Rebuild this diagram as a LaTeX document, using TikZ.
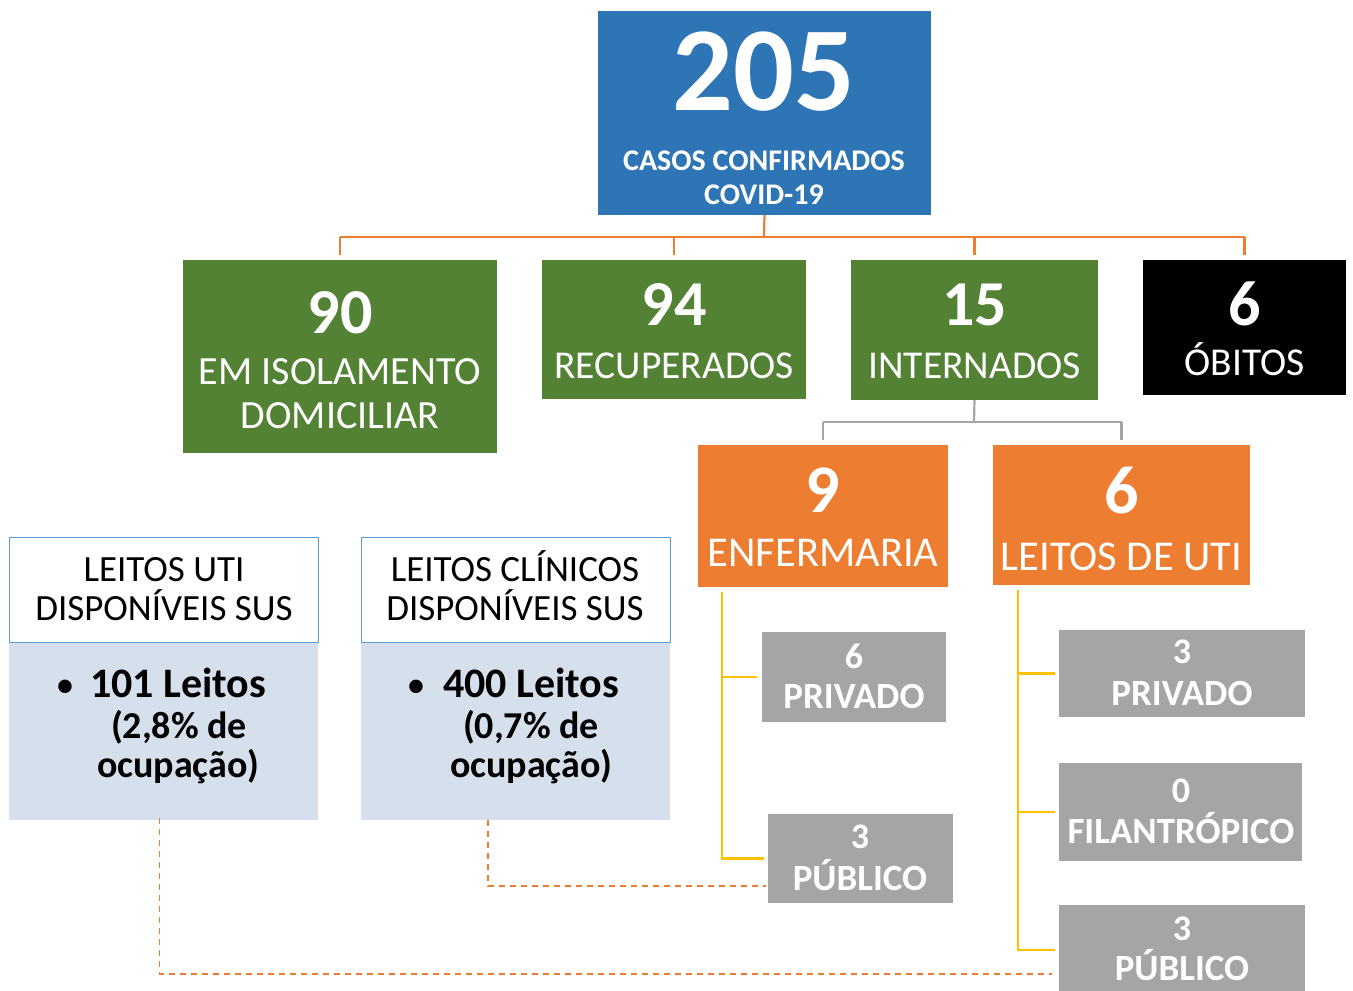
\documentclass[tikz,border=0pt]{standalone}
\usepackage{fontspec}
\setmainfont{Carlito}
\definecolor{blu}{HTML}{2E75B6}
\definecolor{grn}{HTML}{548235}
\definecolor{org}{HTML}{ED7D31}
\definecolor{gry}{HTML}{A5A5A5}
\definecolor{yel}{HTML}{FFC000}
\definecolor{lbody}{HTML}{D6DFEC}
\definecolor{hblue}{HTML}{5B9BD5}
\definecolor{glin}{HTML}{A5A5A5}
\newcommand\fs[1]{\fontsize{#1}{#1}\selectfont}
\begin{document}
\begin{tikzpicture}[x=1pt,y=-1pt,
  bx/.style={rectangle, inner sep=0pt, outer sep=0pt, anchor=north west},
  lbl/.style={inner sep=0pt, anchor=base, align=center},
  oline/.style={draw=org, line width=2.2pt},
  gline/.style={draw=glin, line width=2.2pt},
  yline/.style={draw=yel, line width=2.4pt},
  dline/.style={draw=org, line width=1.4pt, dash pattern=on 6pt off 5pt},
  wtxt/.style={lbl, text=white},
  btxt/.style={lbl, text=black}]
\useasboundingbox (0,0) rectangle (1353,991);
% boxes
\node[bx, fill=blu, minimum width=333pt, minimum height=204pt] (total) at (598,11) {};
\node[bx, fill=grn, minimum width=314pt, minimum height=193pt] (iso) at (183,260) {};
\node[bx, fill=grn, minimum width=264pt, minimum height=139pt] (rec) at (542,260) {};
\node[bx, fill=grn, minimum width=247pt, minimum height=140pt] (int) at (851,260) {};
\node[bx, fill=black, minimum width=203pt, minimum height=135pt] (obi) at (1143,260) {};
\node[bx, fill=org, minimum width=250pt, minimum height=142pt] (enf) at (698,445) {};
\node[bx, fill=org, minimum width=257pt, minimum height=140pt] (uti) at (993,445) {};
\node[bx, fill=gry, minimum width=184pt, minimum height=90pt] (priv1) at (762,632) {};
\node[bx, fill=gry, minimum width=185pt, minimum height=89pt] (pub1) at (768,814) {};
\node[bx, fill=gry, minimum width=246pt, minimum height=87pt] (priv2) at (1059,630) {};
\node[bx, fill=gry, minimum width=243pt, minimum height=98pt] (fil) at (1059,763) {};
\node[bx, fill=gry, minimum width=246pt, minimum height=90pt] (pub2) at (1059,905) {};
\node[bx, fill=lbody, minimum width=309pt, minimum height=178pt] (utib) at (9,642) {};
\node[bx, draw=hblue, fill=white, line width=1pt, minimum width=309pt, minimum height=105pt] (utih) at (9,537) {};
\node[bx, fill=lbody, minimum width=309pt, minimum height=178pt] (clib) at (361,642) {};
\node[bx, draw=hblue, fill=white, line width=1pt, minimum width=309pt, minimum height=105pt] (clih) at (361,537) {};
% connectors
\coordinate (bus) at (764,237);
\draw[oline] (total.south) -- (bus);
\draw[oline] (bus -| iso.north) -- (bus -| obi.north);
\foreach \n in {iso,rec,int,obi} \draw[oline, shorten >=5pt] (bus -| \n.north) -- (\n.north);
\coordinate (gbus) at (974,422);
\draw[gline] (int.south) -- (gbus);
\draw[gline] (gbus -| enf.north) -- (gbus -| uti.north);
\foreach \n in {enf,uti} \draw[gline, shorten >=5pt] (gbus -| \n.north) -- (\n.north);
\coordinate (y1) at (722,592);
\draw[yline] (y1) |- ([xshift=-5pt]priv1.west);
\draw[yline] (y1) |- ([xshift=-4pt]pub1.west);
\coordinate (y2) at (1018,590);
\draw[yline] (y2) |- ([xshift=-4pt]priv2.west);
\draw[yline] (y2) |- ([xshift=-4pt]fil.west);
\draw[yline] (y2) |- ([xshift=-4pt]pub2.west);
\draw[dline] ([xshift=-4pt,yshift=2pt]utib.south) |- ([xshift=-7pt,yshift=-24pt]pub2.west);
\draw[dline] ([xshift=-27.5pt]clib.south) |- ([xshift=-2pt,yshift=-27.5pt]pub1.west);
% texts
\node[wtxt, font=\bfseries\fs{120}] (t205) at (764,110) {205};
\node[wtxt, font=\bfseries\fs{30}] (tcasos) at (764,170) {CASOS CONFIRMADOS};
\node[wtxt, font=\bfseries\fs{30}] (tcovid) at (764,204) {COVID-19};
\node[wtxt, font=\bfseries\fs{64}] (t90) at (340,333) {90};
\node[wtxt, font=\fs{40}] (tiso1) at (340,384) {EM ISOLAMENTO};
\node[wtxt, font=\fs{40}] (tiso2) at (340,428) {DOMICILIAR};
\node[wtxt, font=\bfseries\fs{64}] (t94) at (674,325) {94};
\node[wtxt, font=\fs{39.5}] (trec) at (674,378) {RECUPERADOS};
\node[wtxt, font=\bfseries\fs{64}] (t15) at (974.5,325) {15};
\node[wtxt, font=\fs{39.5}] (tint) at (974.5,378) {INTERNADOS};
\node[wtxt, font=\bfseries\fs{64}] (t6) at (1244.5,325) {6};
\node[wtxt, font=\fs{39.5}] (tobi) at (1244.5,375) {ÓBITOS};
\node[wtxt, font=\bfseries\fs{68}] (t9) at (823,512) {9};
\node[wtxt, font=\fs{42.5}] (tenf) at (823,566) {ENFERMARIA};
\node[wtxt, font=\bfseries\fs{68}] (t6b) at (1121.5,513) {6};
\node[wtxt, font=\fs{42.5}] (tuti) at (1121.5,570) {LEITOS DE UTI};
\node[wtxt, font=\bfseries\fs{36}] (np1) at (854,668) {6};
\node[wtxt, font=\bfseries\fs{37}] (lp1) at (854,708) {PRIVADO};
\node[wtxt, font=\bfseries\fs{36}] (nu1) at (860,848) {3};
\node[wtxt, font=\bfseries\fs{37}] (lu1) at (860,890) {PÚBLICO};
\node[wtxt, font=\bfseries\fs{36}] (np2) at (1182,663) {3};
\node[wtxt, font=\bfseries\fs{37}] (lp2) at (1182,705) {PRIVADO};
\node[wtxt, font=\bfseries\fs{36}] (nf) at (1181,802) {0};
\node[wtxt, font=\bfseries\fs{37}] (lf) at (1181,843) {FILANTRÓPICO};
\node[wtxt, font=\bfseries\fs{36}] (nu2) at (1182,940) {3};
\node[wtxt, font=\bfseries\fs{37}] (lu2) at (1182,980) {PÚBLICO};
\node[btxt, font=\fs{37}] (h1a) at (164,581) {LEITOS UTI};
\node[btxt, font=\fs{37}] (h1b) at (164,620) {DISPONÍVEIS SUS};
\node[btxt, font=\fs{37}] (h2a) at (515,581) {LEITOS CLÍNICOS};
\node[btxt, font=\fs{37}] (h2b) at (515,620) {DISPONÍVEIS SUS};
\node[btxt, font=\fs{38}] (b1) at (65,697) {•};
\node[btxt, font=\bfseries\fs{42}, anchor=base west] (b1a) at (90,697) {101 Leitos};
\node[btxt, font=\bfseries\fs{38}] (b1b) at (179,738) {(2,8\% de};
\node[btxt, font=\bfseries\fs{38}] (b1c) at (178,777) {ocupação)};
\node[btxt, font=\fs{38}] (b2) at (416,697) {•};
\node[btxt, font=\bfseries\fs{42}, anchor=base west] (b2a) at (443,697) {400 Leitos};
\node[btxt, font=\bfseries\fs{38}] (b2b) at (531,738) {(0,7\% de};
\node[btxt, font=\bfseries\fs{38}] (b2c) at (531,777) {ocupação)};
\end{tikzpicture}
\end{document}
